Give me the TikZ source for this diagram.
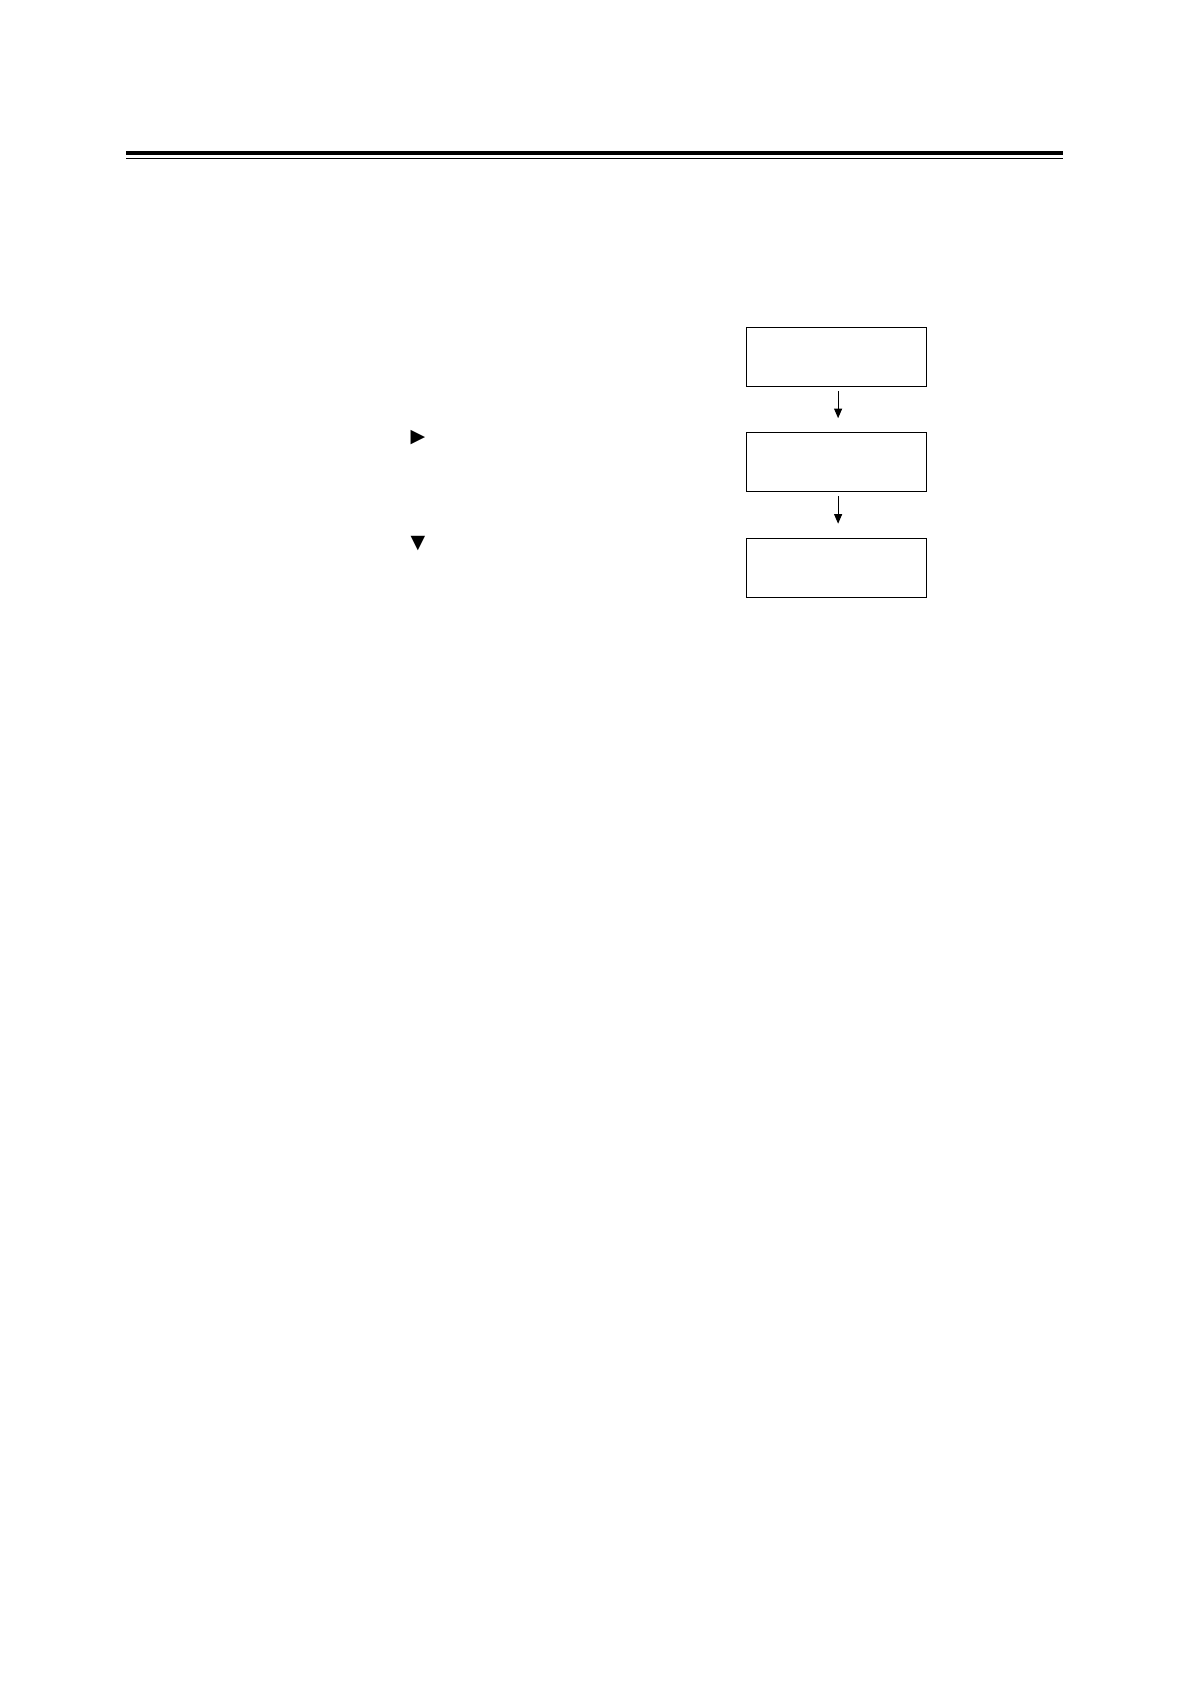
\documentclass[tikz,border=0pt]{standalone}
\usepackage{fontspec}
\newfontfamily\symfont{DejaVu Sans}
\usetikzlibrary{arrows.meta}
\begin{document}
\begin{tikzpicture}[x=0.5pt,y=-0.5pt,
  dispbox/.style={draw,line width=0.6pt,minimum width=90pt,minimum height=29.5pt,inner sep=0pt},
  flowarrow/.style={line width=0.5pt,-{Triangle[length=4.8pt,width=4pt]}},
  keysym/.style={inner sep=0pt,font=\symfont\fontsize{9.5}{9.5}\selectfont}]
\useasboundingbox (0,0) rectangle (1190,1684);
\fill[white] (0,0) rectangle (1190,1684);
% header rules
\coordinate (ruleA) at (126,153);
\coordinate (ruleB) at (1063,153);
\coordinate (ruleC) at (126,158.5);
\coordinate (ruleD) at (1063,158.5);
\draw[line width=2pt] (ruleA) -- (ruleB);
\draw[line width=0.65pt] (ruleC) -- (ruleD);
% boxes
\node[dispbox] (b1) at (836.5,356.8) {};
\node[dispbox] (b2) at (836.5,462.3) {};
\node[dispbox] (b3) at (836.5,567.8) {};
\draw[flowarrow,shorten <=2.3pt,shorten >=7pt] ([xshift=0.8pt]b1.south) -- ([xshift=0.8pt]b2.north);
\draw[flowarrow,shorten <=2pt,shorten >=7pt] ([xshift=0.8pt]b2.south) -- ([xshift=0.8pt]b3.north);
% key symbols
\node[keysym] (kright) at (418,438) {▶};
\node[keysym] (kdown) at (418,544) {▼};
\end{tikzpicture}
\end{document}
